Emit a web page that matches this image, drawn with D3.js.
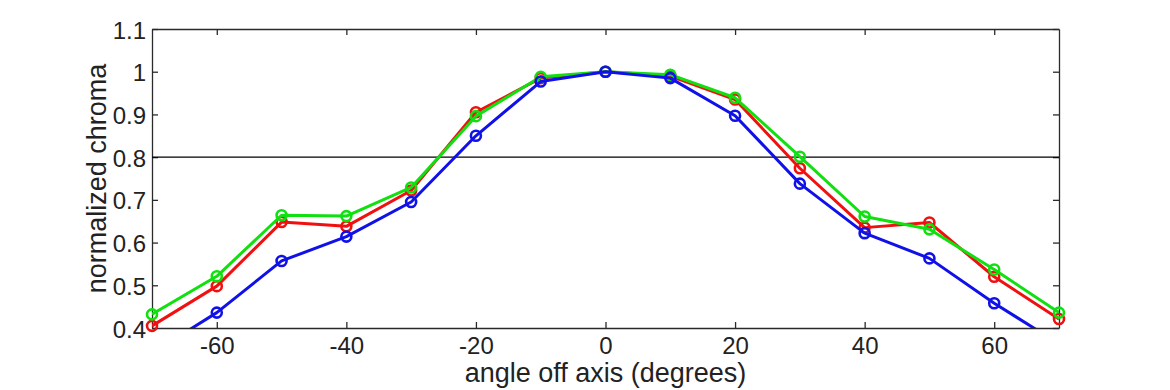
<!DOCTYPE html>
<html><head><meta charset="utf-8">
<script src="https://cdn.jsdelivr.net/npm/d3@7/dist/d3.min.js"></script>
<style>body{margin:0;background:#fff}svg{display:block}</style>
</head><body><svg id="c" width="1170" height="390"></svg>
<script>
const angles = [-70,-60,-50,-40,-30,-20,-10,0,10,20,30,40,50,60,70];
const redValues   = [0.405,0.498,0.648,0.638,0.722,0.905,0.985,1.0,0.990,0.935,0.774,0.635,0.647,0.520,0.421];
const greenValues = [0.432,0.521,0.664,0.662,0.729,0.896,0.988,1.0,0.993,0.939,0.801,0.661,0.631,0.537,0.436];
const blueValues  = [0.341,0.436,0.557,0.614,0.695,0.850,0.977,1.0,0.985,0.897,0.738,0.622,0.563,0.458,0.363];
const xTicks = [-60,-40,-20,0,20,40,60];
const yTicks = [0.4,0.5,0.6,0.7,0.8,0.9,1,1.1];
const threshold = 0.8;
const series = [
  {name:"red", values:redValues, color:"#f01010"},
  {name:"green", values:greenValues, color:"#10e010"},
  {name:"blue", values:blueValues, color:"#1010e8"}
];

const L=152, R=1059, T=29, B=328;
const svg = d3.select("#c");
const x = d3.scaleLinear().domain([-70,70]).range([L,R]);
const y = d3.scaleLinear().domain([0.4,1.1]).range([B,T]);
const font = "'Liberation Sans', Arial, Helvetica, sans-serif";
const axisColor = "#2a2a2a";

svg.append("defs").append("clipPath").attr("id","clip")
  .append("rect").attr("x",L).attr("y",T).attr("width",R-L).attr("height",B-T);

const fmt = d => String(+d.toFixed(1));
const gBottom = svg.append("g").attr("transform",`translate(0,${B})`)
  .call(d3.axisBottom(x).tickValues(xTicks).tickSizeInner(-6).tickSizeOuter(0).tickPadding(9).tickFormat(d=>d));
const gTop = svg.append("g").attr("transform",`translate(0,${T})`)
  .call(d3.axisTop(x).tickValues(xTicks).tickSizeInner(-6).tickSizeOuter(0).tickFormat(""));
const gLeft = svg.append("g").attr("transform",`translate(${L},0)`)
  .call(d3.axisLeft(y).tickValues(yTicks).tickSizeInner(-6).tickSizeOuter(0).tickPadding(6).tickFormat(fmt));
const gRight = svg.append("g").attr("transform",`translate(${R},0)`)
  .call(d3.axisRight(y).tickValues(yTicks).tickSizeInner(-6).tickSizeOuter(0).tickFormat(""));
[gBottom,gTop,gLeft,gRight].forEach(g=>{
  g.select(".domain").attr("stroke",axisColor).attr("stroke-width",1.3);
  g.selectAll(".tick line").attr("stroke",axisColor).attr("stroke-width",1.3);
  g.selectAll("text").attr("fill","#222").style("font-family",font).style("font-size","24px");
});
gLeft.selectAll("text").attr("dy","0.38em");
gBottom.selectAll("text").attr("dy","0.71em");

svg.append("line").attr("x1",L).attr("x2",R).attr("y1",y(threshold)).attr("y2",y(threshold))
  .attr("stroke","#000").attr("stroke-width",1.3);

const line = d3.line().x((d,i)=>x(angles[i])).y(d=>y(d));
series.forEach(s=>{
  svg.append("path").datum(s.values).attr("clip-path","url(#clip)")
    .attr("d",line).attr("fill","none").attr("stroke",s.color).attr("stroke-width",3).attr("stroke-linejoin","round");
  svg.append("g").selectAll("circle")
    .data(s.values.map((v,i)=>({a:angles[i],v})).filter(d=>d.v>=0.4 && d.v<=1.1))
    .join("circle").attr("cx",d=>x(d.a)).attr("cy",d=>y(d.v)).attr("r",5)
    .attr("fill","none").attr("stroke",s.color).attr("stroke-width",2.6);
});

svg.append("text").attr("x",(L+R)/2).attr("y",382).attr("text-anchor","middle")
  .style("font-family",font).style("font-size","27px").attr("fill","#222").text("angle off axis (degrees)");
svg.append("text").attr("transform",`translate(106,${(T+B)/2}) rotate(-90)`).attr("text-anchor","middle")
  .style("font-family",font).style("font-size","27px").attr("fill","#222").text("normalized chroma");
</script></body></html>
